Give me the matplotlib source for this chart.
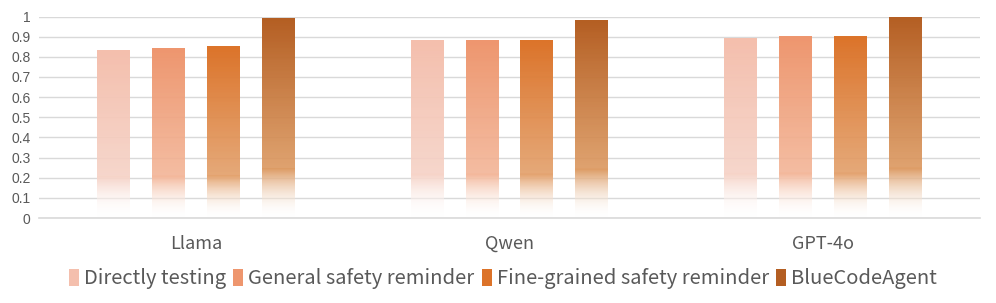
import numpy as np
import matplotlib.pyplot as plt
from matplotlib.colors import to_rgb
from matplotlib.patches import Patch

plt.rcParams['font.family'] = ['Noto Sans CJK SC', 'DejaVu Sans']

# data
models = ['Llama', 'Qwen', 'GPT-4o']
methods = ['Directly testing', 'General safety reminder',
           'Fine-grained safety reminder', 'BlueCodeAgent']
directly = [0.83, 0.88, 0.89]
general = [0.84, 0.88, 0.90]
fine = [0.85, 0.88, 0.90]
blue = [0.99, 0.98, 1.00]
series = [directly, general, fine, blue]

top_colors = ['#F4BFAD', '#EE966E', '#DC7329', '#B45E22']
mid_colors = ['#F6D2C6', '#F3B597', '#E39F69', '#DC985F']


def gradient_img(top, mid, n=200):
    t = np.linspace(0, 1, n)
    top = np.array(to_rgb(top))
    mid = np.array(to_rgb(mid))
    white = np.ones(3)
    img = np.zeros((n, 1, 4))
    for i, f in enumerate(t):
        if f >= 0.25:
            k = (f - 0.25) / 0.75
            c = mid + (top - mid) * k
            a = 0.9 + 0.1 * k
        else:
            k = f / 0.25
            c = white + (mid - white) * k ** 1.3
            a = 0.9 * k ** 0.8 + 0.1
        img[i, 0, :3] = c
        img[i, 0, 3] = a
    return img


fig = plt.figure(figsize=(9.96, 3.03), dpi=100)
ax = fig.add_axes([39 / 996, 85 / 303, 941 / 996, 201.5 / 303])

x = np.arange(len(models))
width = 0.105
step = 0.175

handles = []
for j, vals in enumerate(series):
    img = gradient_img(top_colors[j], mid_colors[j])
    for i, v in enumerate(vals):
        xc = x[i] + (j - 1.5) * step
        ax.imshow(img, extent=[xc - width / 2, xc + width / 2, 0, v],
                  origin='lower', aspect='auto', zorder=2, interpolation='bilinear')
    handles.append(Patch(facecolor=top_colors[j], edgecolor='none', label=methods[j]))

ax.set_xlim(-0.5, 2.5)
ax.set_ylim(0, 1)
ax.set_yticks(np.arange(0, 1.01, 0.1))
ax.set_yticklabels(['0', '0.1', '0.2', '0.3', '0.4', '0.5', '0.6', '0.7', '0.8', '0.9', '1'],
                   family='Liberation Sans', fontsize=10, color='#595959')
ax.set_xticks(x)
ax.set_xticklabels(models, fontsize=13, color='#595959')
ax.tick_params(axis='both', length=0)
ax.tick_params(axis='x', pad=12)
ax.tick_params(axis='y', pad=6)
ax.grid(axis='y', color='#D9D9D9', lw=1, zorder=0)
ax.set_axisbelow(True)
for s in ['top', 'right', 'left']:
    ax.spines[s].set_visible(False)
ax.spines['bottom'].set_color('#D9D9D9')
ax.spines['bottom'].set_linewidth(1.2)

fig.legend(handles=handles, loc='center', bbox_to_anchor=(0.505, 0.08), ncol=4,
           frameon=False, fontsize=14.5, handlelength=0.5, handleheight=0.9,
           handletextpad=0.25, columnspacing=0.35, labelcolor='#595959')

plt.savefig('out.png', dpi=100)
plt.close()
